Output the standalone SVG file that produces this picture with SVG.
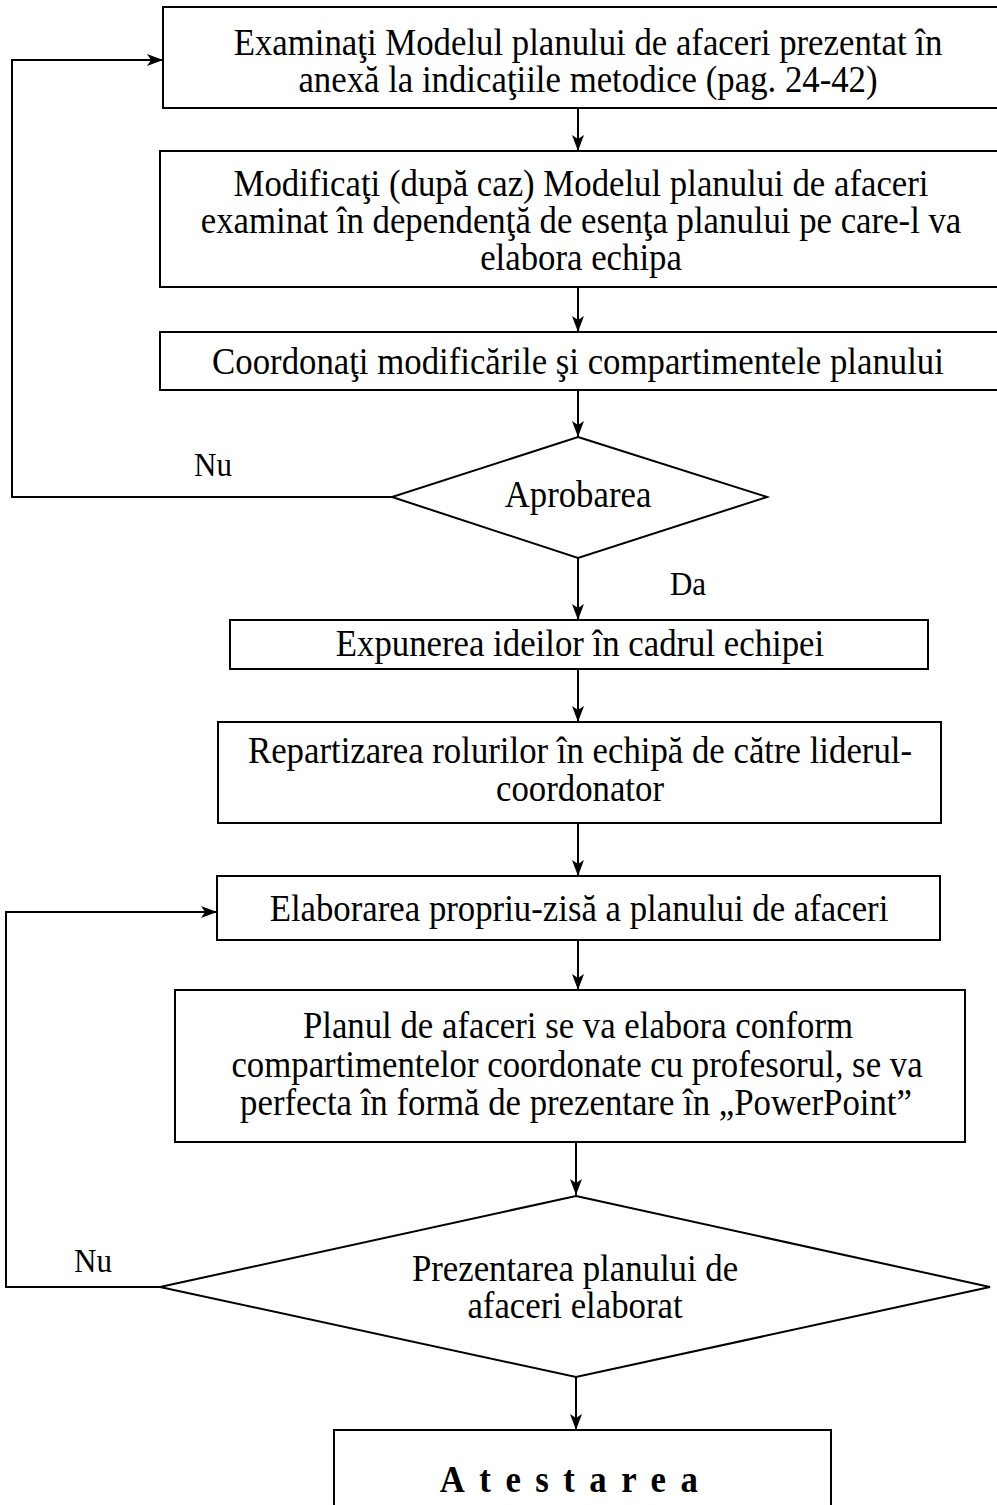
<svg xmlns="http://www.w3.org/2000/svg" width="997" height="1505" viewBox="0 0 997 1505">
<defs>
<style>
.box{fill:#fff;stroke:#000;stroke-width:2}
.t{font-family:"Liberation Serif","Times New Roman",serif;font-size:37px;fill:#000;text-anchor:middle}
.lbl{font-family:"Liberation Serif","Times New Roman",serif;font-size:33px;fill:#000;text-anchor:middle}
.b{font-weight:bold;letter-spacing:15.4px}
.c{fill:none;stroke:#000;stroke-width:2}
</style>
<marker id="ah" viewBox="0 0 16 12" refX="16" refY="6" markerWidth="16" markerHeight="12" markerUnits="userSpaceOnUse" orient="auto">
<path d="M0,0 L16,6 L0,12 L4,6 z" fill="#000"/>
</marker>
</defs>
<rect width="997" height="1505" fill="#fff"/>
<g id="connectors">
<line class="c" x1="578" y1="108" x2="578" y2="151" marker-end="url(#ah)"/>
<line class="c" x1="578" y1="287" x2="578" y2="332" marker-end="url(#ah)"/>
<line class="c" x1="578" y1="390" x2="578" y2="437" marker-end="url(#ah)"/>
<line class="c" x1="578" y1="558" x2="578" y2="620" marker-end="url(#ah)"/>
<line class="c" x1="578" y1="669" x2="578" y2="722" marker-end="url(#ah)"/>
<line class="c" x1="578" y1="823" x2="578" y2="876" marker-end="url(#ah)"/>
<line class="c" x1="578" y1="940" x2="578" y2="990" marker-end="url(#ah)"/>
<line class="c" x1="576" y1="1142" x2="576" y2="1195" marker-end="url(#ah)"/>
<line class="c" x1="576" y1="1377" x2="576" y2="1430" marker-end="url(#ah)"/>
<polyline class="c" points="392,497 12,497 12,60 163,60" marker-end="url(#ah)"/>
<polyline class="c" points="160,1287 6,1287 6,912 217,912" marker-end="url(#ah)"/>
<text class="lbl" transform="translate(213,476) scale(0.94,1)">Nu</text>
<text class="lbl" transform="translate(688,595) scale(0.94,1)">Da</text>
<text class="lbl" transform="translate(93,1272) scale(0.94,1)">Nu</text>
<text class="lbl" transform="translate(716,1464) scale(0.94,1)">Da</text>
</g>
<g id="n1">
<rect class="box" x="163" y="7" width="845" height="101"/>
<text class="t" transform="translate(588,55) scale(0.94,1)">Examinaţi Modelul planului de afaceri prezentat în</text>
<text class="t" transform="translate(588,92) scale(0.94,1)">anexă la indicaţiile metodice (pag. 24-42)</text>
</g>
<g id="n2">
<rect class="box" x="160" y="151" width="848" height="136"/>
<text class="t" transform="translate(581,196) scale(0.94,1)">Modificaţi (după caz) Modelul planului de afaceri</text>
<text class="t" transform="translate(581,233) scale(0.94,1)">examinat în dependenţă de esenţa planului pe care-l va</text>
<text class="t" transform="translate(581,270) scale(0.94,1)">elabora echipa</text>
</g>
<g id="n3">
<rect class="box" x="160" y="332" width="848" height="58"/>
<text class="t" transform="translate(578,374) scale(0.94,1)">Coordonaţi modificările şi compartimentele planului</text>
</g>
<g id="d1">
<polygon class="box" points="578,437 767,497 578,558 392,497"/>
<text class="t" transform="translate(578,507) scale(0.94,1)">Aprobarea</text>
</g>
<g id="n4">
<rect class="box" x="230" y="620" width="698" height="49"/>
<text class="t" transform="translate(580,656) scale(0.94,1)">Expunerea ideilor în cadrul echipei</text>
</g>
<g id="n5">
<rect class="box" x="218" y="722" width="723" height="101"/>
<text class="t" transform="translate(580,763) scale(0.94,1)">Repartizarea rolurilor în echipă de către liderul-</text>
<text class="t" transform="translate(580,801) scale(0.94,1)">coordonator</text>
</g>
<g id="n6">
<rect class="box" x="217" y="876" width="723" height="64"/>
<text class="t" transform="translate(579,921) scale(0.94,1)">Elaborarea propriu-zisă a planului de afaceri</text>
</g>
<g id="n7">
<rect class="box" x="175" y="990" width="790" height="152"/>
<text class="t" transform="translate(578,1038) scale(0.94,1)">Planul de afaceri se va elabora conform</text>
<text class="t" transform="translate(577,1077) scale(0.94,1)">compartimentelor coordonate cu profesorul, se va</text>
<text class="t" transform="translate(576,1115) scale(0.94,1)">perfecta în formă de prezentare în „PowerPoint”</text>
</g>
<g id="d2">
<polygon class="box" points="576,1196 990,1287 576,1377 160,1287"/>
<text class="t" transform="translate(575,1281) scale(0.94,1)">Prezentarea planului de</text>
<text class="t" transform="translate(575,1318) scale(0.94,1)">afaceri elaborat</text>
</g>
<g id="n8">
<rect class="box" x="334" y="1430" width="497" height="100"/>
<text class="t b" transform="translate(576,1492) scale(0.94,1)">Atestarea</text>
</g>
</svg>
